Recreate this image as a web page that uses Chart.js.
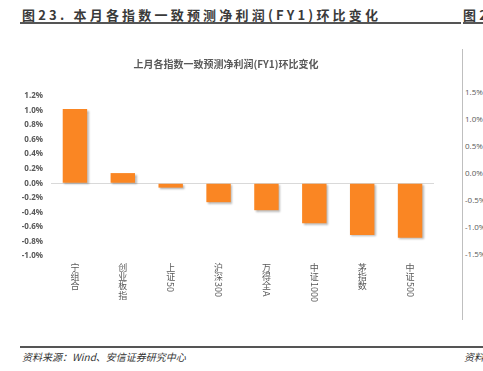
<!DOCTYPE html>
<html lang="zh">
<head>
<meta charset="UTF-8" />
<title>本月各指数一致预测净利润(FY1)环比变化</title>
<script src="https://cdn.jsdelivr.net/npm/chart.js"></script>
<style>
  body {
    margin: 0;
    width: 483px;
    height: 371px;
    overflow: hidden;
    background: #ffffff;
    position: relative;
    font-family: "Noto Sans CJK SC", "Noto Sans", sans-serif;
  }
  .fig-title {
    position: absolute;
    top: 5px;
    font-size: 13px;
    font-weight: bold;
    letter-spacing: 3.2px;
    color: #3a3a3a;
    white-space: nowrap;
  }
  .rule {
    position: absolute;
    height: 2px;
    background: #555555;
  }
  .src {
    position: absolute;
    top: 349px;
    font-size: 10px;
    font-style: italic;
    color: #333333;
    white-space: nowrap;
  }
  #next-axis {
    position: absolute;
    left: 462px;
    top: 49px;
    width: 1px;
    height: 271px;
    background: #bfbfbf;
  }
  .next-tick {
    position: absolute;
    left: 465px;
    font-size: 8px;
    color: #595959;
    font-family: "Open Sans", sans-serif;
    line-height: 10px;
  }
  #chart-box {
    position: absolute;
    left: 0;
    top: 0;
    width: 483px;
    height: 371px;
  }
</style>
</head>
<body>
  <div class="fig-title" style="left:22px">图23. 本月各指数一致预测净利润(FY1)环比变化</div>
  <div class="fig-title" style="left:463px">图24</div>
  <div class="rule" style="left:20px; top:22px; width:441px"></div>
  <div class="rule" style="left:463px; top:22px; width:20px"></div>
  <div class="rule" style="left:20px; top:346px; width:463px"></div>
  <div class="src" style="left:22px">资料来源：Wind、安信证券研究中心</div>
  <div class="src" style="left:464px">资料</div>
  <div id="next-axis"></div>
  <div id="next-ticks"></div>

  <div id="chart-box"><canvas id="chg"></canvas></div>

<script>
  const chartTitle = "上月各指数一致预测净利润(FY1)环比变化";
  const categories = ["宁组合", "创业板指", "上证50", "沪深300", "万得全A", "中证1000", "茅指数", "中证500"];
  const changePct = [1.02, 0.14, -0.06, -0.26, -0.37, -0.55, -0.71, -0.75];
  const nextPanelTicks = ["1.5%", "1.0%", "0.5%", "0.0%", "-0.5%", "-1.0%", "-1.5%"];

  // cropped tick labels of the neighbouring figure
  const tickBox = document.getElementById("next-ticks");
  nextPanelTicks.forEach((t, i) => {
    const d = document.createElement("div");
    d.className = "next-tick";
    d.style.top = (87 + i * 27) + "px";
    d.textContent = t;
    tickBox.appendChild(d);
  });

  // soft shadow under the bars, like the Excel original
  const barShadow = {
    id: "barShadow",
    beforeDatasetsDraw(chart) {
      const ctx = chart.ctx;
      ctx.save();
      ctx.shadowColor = "rgba(0,0,0,0.28)";
      ctx.shadowOffsetX = 1.5;
      ctx.shadowOffsetY = 1.5;
      ctx.shadowBlur = 2;
    },
    afterDatasetsDraw(chart) {
      chart.ctx.restore();
    }
  };

  const isCJK = ch => ch.charCodeAt(0) >= 0x2e80;

  // split "上证50" into ["上", "证", "50"]
  function splitVertical(lab) {
    const parts = [];
    let run = "";
    for (const ch of lab) {
      if (isCJK(ch)) {
        if (run) { parts.push(run); run = ""; }
        parts.push(ch);
      } else {
        run += ch;
      }
    }
    if (run) parts.push(run);
    return parts;
  }

  // vertical (East Asian) category labels: CJK upright, latin/digit runs turned 90deg
  const verticalLabels = {
    id: "verticalLabels",
    afterDraw(chart) {
      const ctx = chart.ctx;
      const xs = chart.scales.x;
      const top = chart.chartArea.bottom + 7;
      ctx.save();
      ctx.fillStyle = "#595959";
      ctx.font = "9px 'Noto Sans CJK SC'";
      chart.data.labels.forEach((lab, i) => {
        const x = xs.getPixelForValue(i);
        let y = top;
        splitVertical(lab).forEach(p => {
          if (isCJK(p)) {
            ctx.textAlign = "center";
            ctx.textBaseline = "top";
            ctx.fillText(p, x, y);
            y += 9.2;
          } else {
            const w = ctx.measureText(p).width;
            ctx.save();
            ctx.translate(x, y);
            ctx.rotate(Math.PI / 2);
            ctx.textAlign = "left";
            ctx.textBaseline = "middle";
            ctx.fillText(p, 0.5, 0);
            ctx.restore();
            y += w + 1;
          }
        });
      });
      ctx.restore();
    }
  };

  new Chart(document.getElementById("chg"), {
    type: "bar",
    data: {
      labels: categories,
      datasets: [{
        data: changePct,
        backgroundColor: "#fa8623",
        borderWidth: 0,
        categoryPercentage: 1,
        barPercentage: 0.51
      }]
    },
    options: {
      responsive: true,
      maintainAspectRatio: false,
      animation: false,
      layout: { padding: { left: 18, right: 49, top: 58, bottom: 107 } },
      plugins: {
        legend: { display: false },
        tooltip: { enabled: false },
        title: {
          display: true,
          text: chartTitle,
          color: "#595959",
          font: { family: "'Noto Sans CJK SC'", size: 10, weight: "bold" },
          padding: { top: 0, bottom: 26 }
        }
      },
      scales: {
        x: {
          ticks: { display: false },
          grid: { display: false },
          border: { display: false }
        },
        y: {
          min: -1.0,
          max: 1.2,
          afterFit(scale) { scale.width = 33; },
          ticks: {
            stepSize: 0.2,
            padding: 8,
            color: "#595959",
            font: { family: "'Open Sans'", size: 8, weight: "bold" },
            callback: v => v.toFixed(1) + "%"
          },
          grid: {
            drawTicks: false,
            color: c => Math.abs(c.tick.value) < 1e-9 ? "#d9d9d9" : "rgba(0,0,0,0)"
          },
          border: { display: false }
        }
      }
    },
    plugins: [barShadow, verticalLabels]
  });
</script>
</body>
</html>
